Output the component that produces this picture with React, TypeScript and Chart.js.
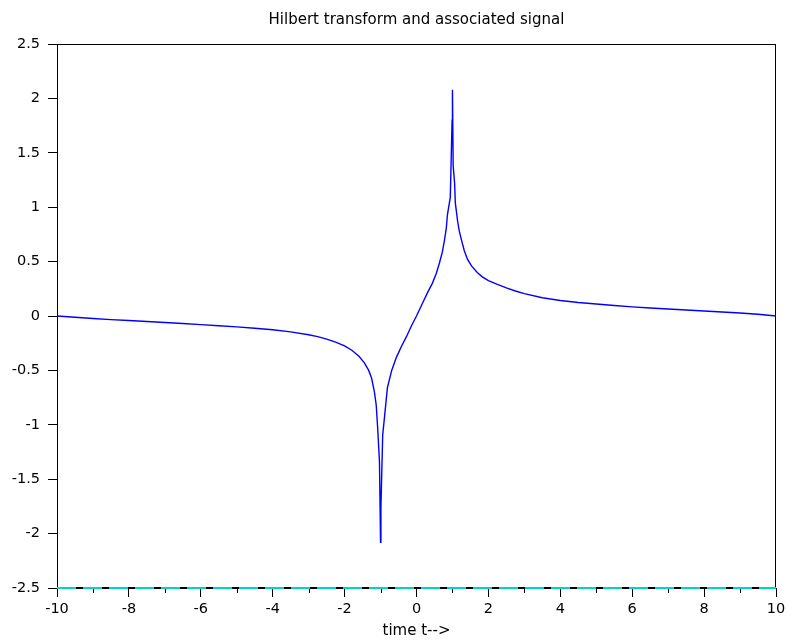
import React, { useEffect, useRef } from "react";
import { Chart, registerables } from "chart.js";

Chart.register(...registerables);

const chartTitle = "Hilbert transform and associated signal";
const xAxisLabel = "time t-->";

// time samples (t) and the Hilbert transform values
const tValues = [
  -10, -9.5, -9, -8.5, -8, -7.5, -7, -6.5, -6, -5.5, -5, -4.5, -4, -3.5, -3.0,
  -2.75, -2.5, -2.25, -2.0, -1.8, -1.6, -1.45, -1.33, -1.25, -1.17, -1.12,
  -1.08, -1.03, -1.0, -0.99, -0.94, -0.89, -0.81, -0.69, -0.56, -0.42, -0.28,
  -0.14, 0, 0.17, 0.3, 0.44, 0.55, 0.64, 0.72, 0.78, 0.83, 0.86, 0.94, 0.99,
  1.0, 1.02, 1.06, 1.08, 1.14, 1.19, 1.25, 1.33, 1.42, 1.53, 1.69, 1.83, 2.0,
  2.25, 2.5, 2.75, 3.0, 3.5, 4.0, 4.5, 5, 5.5, 6, 6.5, 7, 7.5, 8, 8.5, 9, 9.5,
  10,
];
const hilbertValues = [
  0, -0.012, -0.023, -0.033, -0.042, -0.051, -0.06, -0.069, -0.079, -0.089,
  -0.1, -0.112, -0.127, -0.146, -0.172, -0.19, -0.212, -0.24, -0.275, -0.315,
  -0.37, -0.43, -0.5, -0.57, -0.7, -0.82, -1.03, -1.34, -2.08, -1.76, -1.09,
  -0.93, -0.66, -0.5, -0.38, -0.28, -0.19, -0.09, 0, 0.12, 0.21, 0.3, 0.39,
  0.49, 0.59, 0.7, 0.81, 0.93, 1.09, 1.8, 2.08, 1.38, 1.22, 1.04, 0.88, 0.78,
  0.7, 0.6, 0.52, 0.46, 0.4, 0.36, 0.325, 0.29, 0.258, 0.23, 0.205, 0.168,
  0.142, 0.124, 0.11, 0.096, 0.084, 0.073, 0.064, 0.055, 0.046, 0.037, 0.028,
  0.016, 0,
];

// associated signal (drawn as dashed line on the lower limit)
const signalT = [-10, 10];
const signalValues = [-2.5, -2.5];

const xMin = -10;
const xMax = 10;
const yMin = -2.5;
const yMax = 2.5;

const framePlugin = {
  id: "frame",
  beforeDatasetsDraw(chart: any) {
    const { ctx, chartArea } = chart;
    const { left, top, right, bottom } = chartArea;
    ctx.save();
    ctx.strokeStyle = "#000";
    ctx.lineWidth = 1;
    ctx.strokeRect(left + 0.5, top + 0.5, right - left - 1, bottom - top - 1);
    // minor ticks on x-axis
    const xs = chart.scales.x;
    ctx.beginPath();
    for (let t = xMin + 1; t < xMax; t += 2) {
      const px = Math.round(xs.getPixelForValue(t)) + 0.5;
      ctx.moveTo(px, bottom);
      ctx.lineTo(px, bottom + 5);
    }
    ctx.stroke();
    ctx.restore();
  },
};

export default function App() {
  const ref = useRef<HTMLCanvasElement | null>(null);

  useEffect(() => {
    document.body.style.margin = "0";
    const canvas = ref.current;
    if (!canvas) return;
    Chart.defaults.font.family = "'DejaVu Sans', sans-serif";
    Chart.defaults.color = "#000";
    const chart = new Chart(canvas, {
      type: "line",
      data: {
        datasets: [
          {
            label: "hilbert",
            data: tValues.map((t, i) => ({ x: t, y: hilbertValues[i] })),
            borderColor: "rgb(0,0,255)",
            borderWidth: 1.4,
            pointRadius: 0,
            tension: 0,
            fill: false,
          },
          {
            label: "signal",
            data: signalT.map((t, i) => ({ x: t, y: signalValues[i] })),
            borderColor: "rgb(0,210,210)",
            borderWidth: 2,
            borderDash: [19, 7],
            pointRadius: 0,
            fill: false,
            clip: 4,
          },
        ],
      },
      options: {
        animation: false,
        responsive: false,
        layout: { padding: { right: 11, left: 0, top: 0, bottom: 0 } },
        plugins: {
          legend: { display: false },
          tooltip: { enabled: false },
          title: {
            display: true,
            fullSize: false,
            text: chartTitle,
            color: "#000",
            font: { size: 15, weight: "normal" },
            padding: { top: 11, bottom: 15 },
          },
        },
        scales: {
          x: {
            type: "linear",
            min: xMin,
            max: xMax,
            afterFit(scale: any) {
              scale.height = 55;
              scale.paddingRight = 0;
              scale.paddingLeft = 0;
            },
            ticks: {
              stepSize: 1,
              autoSkip: false,
              maxRotation: 0,
              padding: 4,
              font: { size: 14.5 },
              color: "#000",
              callback: (v: any) => (Number(v) % 2 === 0 ? String(v) : ""),
            },
            grid: {
              drawOnChartArea: false,
              drawTicks: true,
              tickLength: 9,
              tickColor: (c: any) =>
                c.tick && Number(c.tick.value) % 2 === 0 ? "#000" : "rgba(0,0,0,0)",
            },
            border: { display: true, color: "#000", width: 1 },
            title: {
              display: true,
              text: xAxisLabel,
              color: "#000",
              font: { size: 15 },
              padding: { top: 0, bottom: 3 },
            },
          },
          y: {
            type: "linear",
            min: yMin,
            max: yMax,
            afterFit(scale: any) {
              scale.width = 57;
            },
            ticks: {
              stepSize: 0.5,
              padding: 8,
              font: { size: 14.5 },
              color: "#000",
              callback: (v: any) => String(Number(v)),
            },
            grid: {
              drawOnChartArea: false,
              drawTicks: true,
              tickLength: 9,
              tickColor: "#000",
            },
            border: { display: true, color: "#000", width: 1 },
          },
        },
      },
      plugins: [framePlugin],
    });
    return () => chart.destroy();
  }, []);

  return (
    <canvas
      ref={ref}
      width={787}
      height={643}
      style={{ display: "block", width: 787, height: 643 }}
    />
  );
}
